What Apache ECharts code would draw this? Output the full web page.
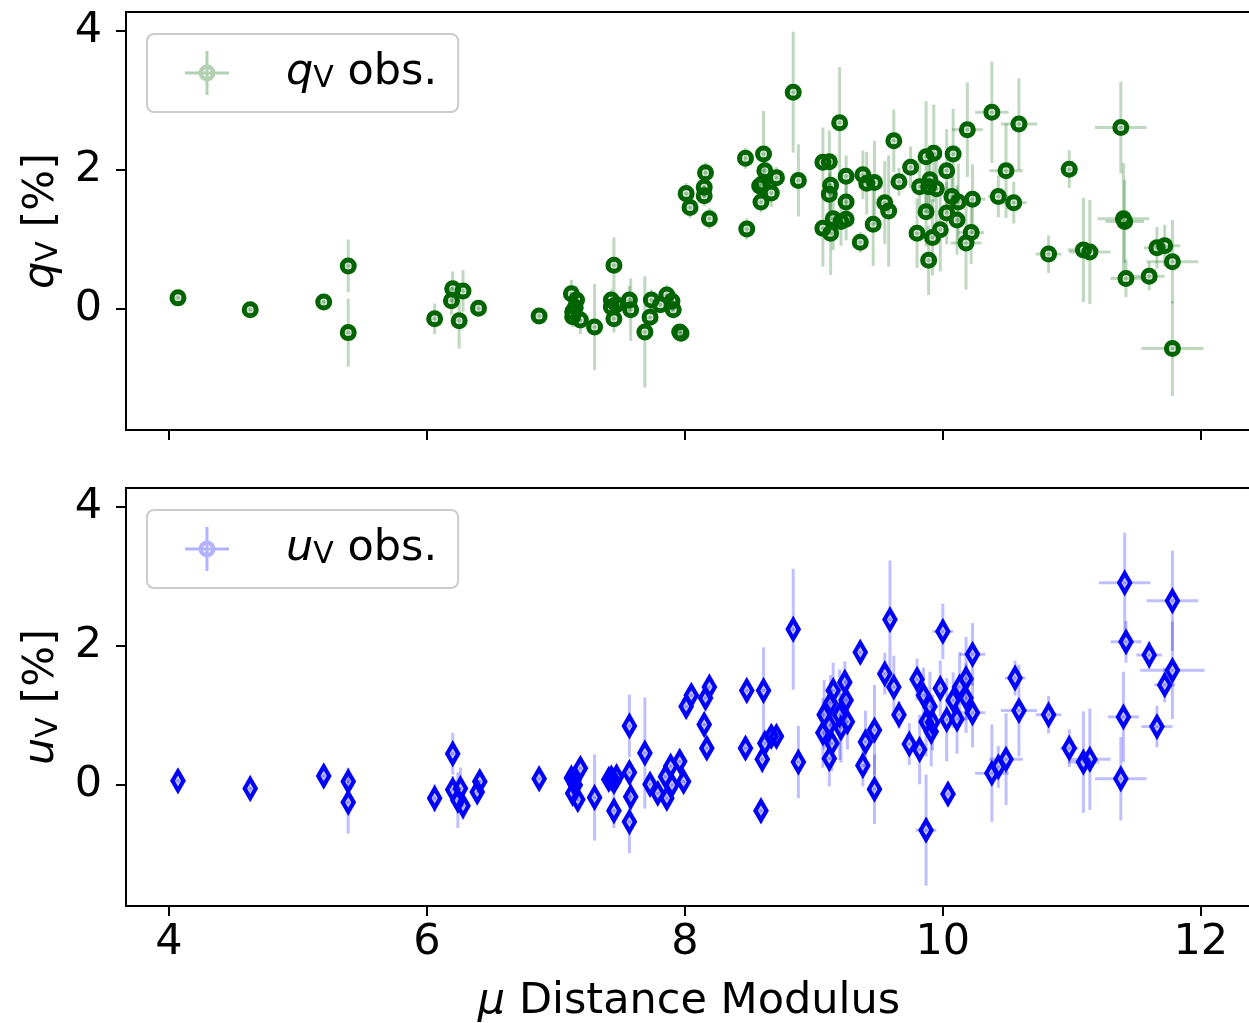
<!DOCTYPE html>
<html><head><meta charset="utf-8">
<script src="https://cdn.jsdelivr.net/npm/echarts@6/dist/echarts.min.js"></script>
<style>html,body{margin:0;padding:0;background:#fff}#c{width:1249px;height:1023px}</style>
</head><body><div id="c"></div><script>
// ---- data: q_V panel ----
const qX = [4.07, 4.63, 5.20, 5.39, 5.39, 6.06, 6.20, 6.19, 6.28, 6.25,
  6.40, 6.87, 7.12, 7.16, 7.13, 7.13, 7.19, 7.15, 7.30, 7.45,
  7.43, 7.43, 7.47, 7.45, 7.57, 7.58, 7.74, 7.73, 7.69, 7.86,
  7.90, 7.91, 7.81, 7.97, 7.96, 8.01, 8.04, 8.16, 8.15, 8.15,
  8.19, 8.84, 8.47, 8.61, 8.62, 8.71, 8.58, 8.60, 8.67, 8.59,
  8.48, 8.88, 9.20, 9.07, 9.12, 9.25, 9.13, 9.12, 9.25, 9.07,
  9.15, 9.13, 9.21, 9.25, 9.38, 9.41, 9.47, 9.36, 9.46, 9.62,
  9.66, 9.55, 9.58, 9.75, 9.87, 9.93, 10.08, 10.03, 9.82, 9.90,
  9.89, 9.95, 9.87, 9.80, 9.92, 9.89, 10.03, 10.07, 10.12, 10.11,
  9.98, 10.19, 10.23, 10.22, 10.18, 10.38, 10.59, 10.49, 10.43, 10.55,
  10.98, 11.38, 11.40, 11.41, 10.82, 11.09, 11.14, 11.42, 11.60, 11.66,
  11.72, 11.78, 11.78];
const qVal = [0.16, -0.01, 0.10, 0.62, -0.34, -0.14, 0.29, 0.12, 0.26, -0.17,
  0.01, -0.10, 0.22, 0.13, -0.04, -0.11, -0.16, 0.02, -0.26, 0.63,
  0.13, 0.03, 0.06, -0.14, 0.13, -0.01, 0.13, -0.12, -0.33, 0.20,
  0.11, -0.01, 0.06, -0.35, -0.33, 1.66, 1.46, 1.96, 1.75, 1.63,
  1.30, 3.12, 2.17, 2.23, 1.99, 1.89, 1.77, 1.80, 1.67, 1.54,
  1.15, 1.85, 2.68, 2.11, 2.12, 1.91, 1.78, 1.65, 1.54, 1.16,
  1.30, 1.09, 1.26, 1.29, 1.93, 1.81, 1.82, 0.96, 1.22, 2.42,
  1.83, 1.53, 1.41, 2.04, 2.19, 2.24, 2.23, 1.99, 1.76, 1.86,
  1.76, 1.73, 1.40, 1.09, 1.03, 0.70, 1.38, 1.62, 1.54, 1.28,
  1.14, 2.58, 1.58, 1.10, 0.95, 2.83, 2.66, 1.99, 1.62, 1.53,
  2.01, 2.61, 1.30, 1.26, 0.79, 0.85, 0.82, 0.44, 0.47, 0.88,
  0.91, 0.68, -0.57];
const qErr = [0.05, 0.08, 0.06, 0.38, 0.49, 0.22, 0.25, 0.2, 0.3, 0.4,
  0.1, 0.08, 0.2, 0.2, 0.15, 0.15, 0.2, 0.1, 0.62, 0.4,
  0.15, 0.15, 0.12, 0.2, 0.2, 0.45, 0.15, 0.15, 0.8, 0.15,
  0.15, 0.12, 0.1, 0.12, 0.1, 0.15, 0.15, 0.15, 0.15, 0.15,
  0.15, 0.87, 0.15, 0.62, 0.2, 0.15, 0.15, 0.15, 0.2, 0.15,
  0.15, 0.52, 0.8, 0.5, 0.45, 0.3, 0.4, 0.3, 0.3, 0.55,
  0.45, 0.6, 0.35, 0.3, 0.35, 0.45, 0.6, 0.15, 0.6, 0.45,
  0.2, 0.6, 0.8, 0.3, 0.8, 0.7, 0.65, 0.6, 0.4, 0.5,
  0.4, 0.5, 0.5, 0.5, 0.55, 0.5, 0.45, 0.35, 0.55, 0.5,
  0.6, 0.68, 0.5, 0.45, 0.67, 0.73, 0.66, 0.68, 0.3, 0.3,
  0.27, 0.66, 0.8, 0.6, 0.27, 0.75, 0.75, 0.27, 0.2, 0.3,
  0.3, 0.6, 0.68];
const qXErr = [0.03, 0.03, 0.03, 0.03, 0.03, 0.03, 0.03, 0.03, 0.03, 0.03,
  0.03, 0.03, 0.03, 0.03, 0.03, 0.03, 0.03, 0.03, 0.03, 0.03,
  0.03, 0.03, 0.03, 0.03, 0.03, 0.03, 0.03, 0.03, 0.03, 0.03,
  0.03, 0.03, 0.03, 0.03, 0.03, 0.03, 0.03, 0.03, 0.03, 0.03,
  0.03, 0.03, 0.03, 0.03, 0.03, 0.03, 0.03, 0.03, 0.03, 0.03,
  0.03, 0.03, 0.03, 0.03, 0.03, 0.03, 0.03, 0.03, 0.03, 0.03,
  0.03, 0.03, 0.03, 0.03, 0.03, 0.03, 0.03, 0.03, 0.03, 0.03,
  0.03, 0.03, 0.03, 0.03, 0.03, 0.03, 0.03, 0.03, 0.03, 0.03,
  0.03, 0.03, 0.03, 0.03, 0.03, 0.03, 0.03, 0.03, 0.03, 0.03,
  0.03, 0.12, 0.10, 0.10, 0.12, 0.13, 0.14, 0.13, 0.08, 0.10,
  0.07, 0.20, 0.20, 0.15, 0.10, 0.12, 0.16, 0.12, 0.12, 0.10,
  0.12, 0.20, 0.24];

// ---- data: u_V panel ----
const uX = [4.07, 4.63, 5.20, 5.39, 5.39, 6.06, 6.20, 6.20, 6.26, 6.24,
  6.28, 6.41, 6.39, 6.87, 7.19, 7.14, 7.13, 7.17, 7.15, 7.12,
  7.30, 7.45, 7.43, 7.45, 7.47, 7.41, 7.57, 7.57, 7.58, 7.57,
  7.69, 7.73, 7.79, 7.86, 7.85, 7.89, 7.96, 7.99, 7.90, 8.01,
  8.05, 8.16, 8.19, 8.15, 8.17, 8.84, 8.48, 8.61, 8.47, 8.60,
  8.62, 8.67, 8.71, 8.59, 8.88, 9.36, 9.59, 9.55, 9.62, 9.66,
  9.15, 9.24, 9.25, 9.13, 9.08, 9.12, 9.07, 9.20, 9.26, 9.21,
  9.14, 9.12, 9.47, 9.40, 9.38, 9.47, 9.80, 9.85, 9.90, 9.98,
  10.00, 9.87, 9.92, 9.91, 9.74, 9.82, 10.03, 10.11, 10.08, 10.13,
  10.18, 10.18, 10.23, 10.23, 10.04, 9.87, 11.41, 11.78, 11.42, 11.60,
  11.78, 11.72, 11.40, 11.66, 11.38, 10.98, 11.09, 11.14, 10.82, 10.56,
  10.59, 10.38, 10.43, 10.49];
const uVal = [0.06, -0.05, 0.13, 0.05, -0.25, -0.19, 0.45, -0.07, -0.05, -0.22,
  -0.30, 0.05, -0.10, 0.09, 0.24, 0.07, -0.12, -0.21, 0.00, 0.10,
  -0.18, -0.37, 0.10, 0.05, 0.12, 0.08, 0.85, 0.18, -0.17, -0.53,
  0.46, 0.01, -0.12, -0.19, 0.12, 0.27, 0.34, 0.05, 0.00, 1.13,
  1.29, 1.25, 1.41, 0.87, 0.53, 2.24, 1.36, 1.36, 0.53, 0.37,
  0.60, 0.70, 0.70, -0.37, 0.33, 1.91, 2.38, 1.60, 1.41, 1.01,
  1.36, 1.48, 1.22, 1.18, 1.01, 0.86, 0.75, 1.01, 0.91, 0.82,
  0.60, 0.38, 0.79, 0.62, 0.28, -0.06, 1.52, 1.29, 1.13, 1.39,
  2.21, 0.91, 0.90, 0.77, 0.59, 0.51, 0.94, 0.95, 1.22, 1.41,
  1.53, 1.25, 1.88, 1.04, -0.13, -0.65, 2.91, 2.65, 2.06, 1.87,
  1.65, 1.44, 0.98, 0.84, 0.09, 0.53, 0.33, 0.37, 1.01, 1.54,
  1.07, 0.17, 0.26, 0.37];
const uErr = [0.05, 0.06, 0.08, 0.2, 0.45, 0.2, 0.3, 0.2, 0.3, 0.4,
  0.2, 0.1, 0.1, 0.08, 0.15, 0.15, 0.15, 0.15, 0.1, 0.1,
  0.62, 0.25, 0.15, 0.15, 0.12, 0.12, 0.45, 0.15, 0.2, 0.45,
  0.8, 0.15, 0.12, 0.12, 0.12, 0.15, 0.15, 0.1, 0.1, 0.15,
  0.15, 0.15, 0.15, 0.15, 0.15, 0.87, 0.15, 0.62, 0.15, 0.2,
  0.15, 0.15, 0.12, 0.15, 0.52, 0.15, 0.85, 0.3, 0.45, 0.2,
  0.4, 0.3, 0.4, 0.4, 0.5, 0.4, 0.5, 0.65, 0.4, 0.5,
  0.4, 0.4, 0.65, 0.45, 0.3, 0.5, 0.3, 0.4, 0.5, 0.4,
  0.4, 0.5, 0.4, 0.5, 0.3, 0.5, 0.6, 0.5, 0.4, 0.5,
  0.6, 0.5, 0.45, 0.5, 0.15, 0.8, 0.72, 0.72, 0.3, 0.2,
  0.7, 0.25, 0.65, 0.3, 0.6, 0.27, 0.73, 0.73, 0.27, 0.25,
  0.66, 0.7, 0.3, 0.66];
const uXErr = [0.03, 0.03, 0.03, 0.03, 0.03, 0.03, 0.03, 0.03, 0.03, 0.03,
  0.03, 0.03, 0.03, 0.03, 0.03, 0.03, 0.03, 0.03, 0.03, 0.03,
  0.03, 0.03, 0.03, 0.03, 0.03, 0.03, 0.03, 0.03, 0.03, 0.03,
  0.03, 0.03, 0.03, 0.03, 0.03, 0.03, 0.03, 0.03, 0.03, 0.03,
  0.03, 0.03, 0.03, 0.03, 0.03, 0.03, 0.03, 0.03, 0.03, 0.03,
  0.03, 0.03, 0.03, 0.03, 0.03, 0.03, 0.03, 0.03, 0.03, 0.03,
  0.03, 0.03, 0.03, 0.03, 0.03, 0.03, 0.03, 0.03, 0.03, 0.03,
  0.03, 0.03, 0.03, 0.03, 0.03, 0.03, 0.03, 0.03, 0.03, 0.03,
  0.08, 0.03, 0.03, 0.03, 0.03, 0.03, 0.03, 0.03, 0.03, 0.03,
  0.03, 0.03, 0.10, 0.10, 0.03, 0.08, 0.20, 0.20, 0.12, 0.10,
  0.25, 0.08, 0.12, 0.12, 0.20, 0.07, 0.12, 0.16, 0.10, 0.08,
  0.14, 0.13, 0.08, 0.13];

// ---- axes / labels ----
const xTicks = [4, 6, 8, 10, 12];
const yTicks = [0, 2, 4];
const xRange = [3.667, 12.397];
const yRange = [-1.741, 4.273];

const FONT = 'DejaVu Sans';
const FS = 43;
const GREEN = '#006400', BLUE = '#0000ff';
const GREEN_A = 'rgba(0,100,0,0.25)', BLUE_A = 'rgba(0,0,255,0.25)';
const ICON = 'path://M0,20.5H44V23.5H0Z M20.5,0H23.5V44H20.5Z M22,13.5A8.5,8.5,0,1,1,21.99,13.5Z M22,18A4,4,0,1,0,22.01,18Z';

const richBase = {
  i: {fontStyle: 'italic', fontSize: FS, fontFamily: FONT, color: '#000'},
  s: {fontSize: 30, fontFamily: FONT, color: '#000', verticalAlign: 'bottom'},
  g: {width: 52}
};

function xAxisCfg(idx, showLabels) {
  return {
    type: 'value', gridIndex: idx, min: xRange[0], max: xRange[1],
    axisLine: {show: true, onZero: false, lineStyle: {color: '#000', width: 2}},
    axisTick: {show: true, length: 10, lineStyle: {color: '#000', width: 2}, customValues: xTicks},
    axisLabel: {show: showLabels, customValues: xTicks, fontSize: FS, fontFamily: FONT, color: '#000', margin: 15},
    splitLine: {show: false},
    name: showLabels ? '{i|μ} Distance Modulus' : '',
    nameLocation: 'middle', nameGap: 74,
    nameTextStyle: {fontSize: FS, fontFamily: FONT, color: '#000', rich: richBase}
  };
}
function yAxisCfg(idx, letter) {
  return {
    type: 'value', gridIndex: idx, min: yRange[0], max: yRange[1],
    axisLine: {show: true, onZero: false, lineStyle: {color: '#000', width: 2}},
    axisTick: {show: true, length: 10, lineStyle: {color: '#000', width: 2}, customValues: yTicks},
    axisLabel: {customValues: yTicks, fontSize: FS, fontFamily: FONT, color: '#000', margin: 24},
    splitLine: {show: false},
    name: '{i|' + letter + '}{s|V} [%]',
    nameLocation: 'middle', nameGap: 62,
    nameTextStyle: {fontSize: FS, fontFamily: FONT, color: '#000', rich: richBase}
  };
}

function errSeries(name, xs, ys, es, xes, color, idx) {
  return {
    type: 'custom', name: name, xAxisIndex: idx, yAxisIndex: idx, z: 1, silent: true, clip: true,
    data: xs.map((x, i) => [x, ys[i], es[i], xes[i]]),
    encode: {x: 0, y: 1},
    renderItem: (params, api) => {
      const x = api.value(0), y = api.value(1), e = api.value(2), xe = api.value(3);
      const t = api.coord([x, y + e]), b = api.coord([x, y - e]);
      const l = api.coord([x - xe, y]), r = api.coord([x + xe, y]);
      return {type: 'group', children: [
        {type: 'line', shape: {x1: t[0], y1: t[1], x2: b[0], y2: b[1]}, style: {stroke: color, lineWidth: 3}},
        {type: 'line', shape: {x1: l[0], y1: l[1], x2: r[0], y2: r[1]}, style: {stroke: color, lineWidth: 3}}
      ]};
    }
  };
}

function legendCfg(name, letter, top, color) {
  return {
    data: [{name: name, icon: ICON, itemStyle: {color: color, borderWidth: 0}}],
    left: 147, top: top, itemWidth: 44, itemHeight: 44,
    padding: [17, 21, 17, 38],
    backgroundColor: '#fff', borderColor: '#cccccc', borderWidth: 2, borderRadius: 7,
    selectedMode: false,
    formatter: () => '{g|}{i|' + letter + '}{s|V} obs.',
    textStyle: {fontSize: FS, fontFamily: FONT, color: '#000', rich: richBase}
  };
}

const chart = echarts.init(document.getElementById('c'), null, {renderer: 'canvas'});
chart.setOption({
  animation: false,
  backgroundColor: '#fff',
  grid: [
    {left: 126, top: 12, width: 1126, height: 418, show: true, borderColor: '#000', borderWidth: 2, backgroundColor: 'transparent', outerBoundsMode: 'none'},
    {left: 126, top: 488, width: 1126, height: 418, show: true, borderColor: '#000', borderWidth: 2, backgroundColor: 'transparent', outerBoundsMode: 'none'}
  ],
  xAxis: [xAxisCfg(0, false), xAxisCfg(1, true)],
  yAxis: [yAxisCfg(0, 'q'), yAxisCfg(1, 'u')],
  legend: [
    legendCfg('qV', 'q', 34, 'rgba(0,100,0,0.3)'),
    legendCfg('uV', 'u', 510, 'rgba(0,0,255,0.3)')
  ],
  series: [
    errSeries('qErr', qX, qVal, qErr, qXErr, GREEN_A, 0),
    {
      type: 'scatter', name: 'qV', xAxisIndex: 0, yAxisIndex: 0, z: 3, silent: true,
      data: qX.map((x, i) => [x, qVal[i]]),
      symbol: 'circle', symbolSize: 12,
      itemStyle: {color: 'rgba(0,0,0,0)', borderColor: GREEN, borderWidth: 5, opacity: 1}
    },
    errSeries('uErr', uX, uVal, uErr, uXErr, BLUE_A, 1),
    {
      type: 'scatter', name: 'uV', xAxisIndex: 1, yAxisIndex: 1, z: 3, silent: true,
      data: uX.map((x, i) => [x, uVal[i]]),
      symbol: 'diamond', symbolSize: [11, 19],
      itemStyle: {color: 'rgba(0,0,0,0)', borderColor: BLUE, borderWidth: 4.5, borderJoin: 'miter', borderMiterLimit: 10, opacity: 1}
    }
  ]
});
</script></body></html>
